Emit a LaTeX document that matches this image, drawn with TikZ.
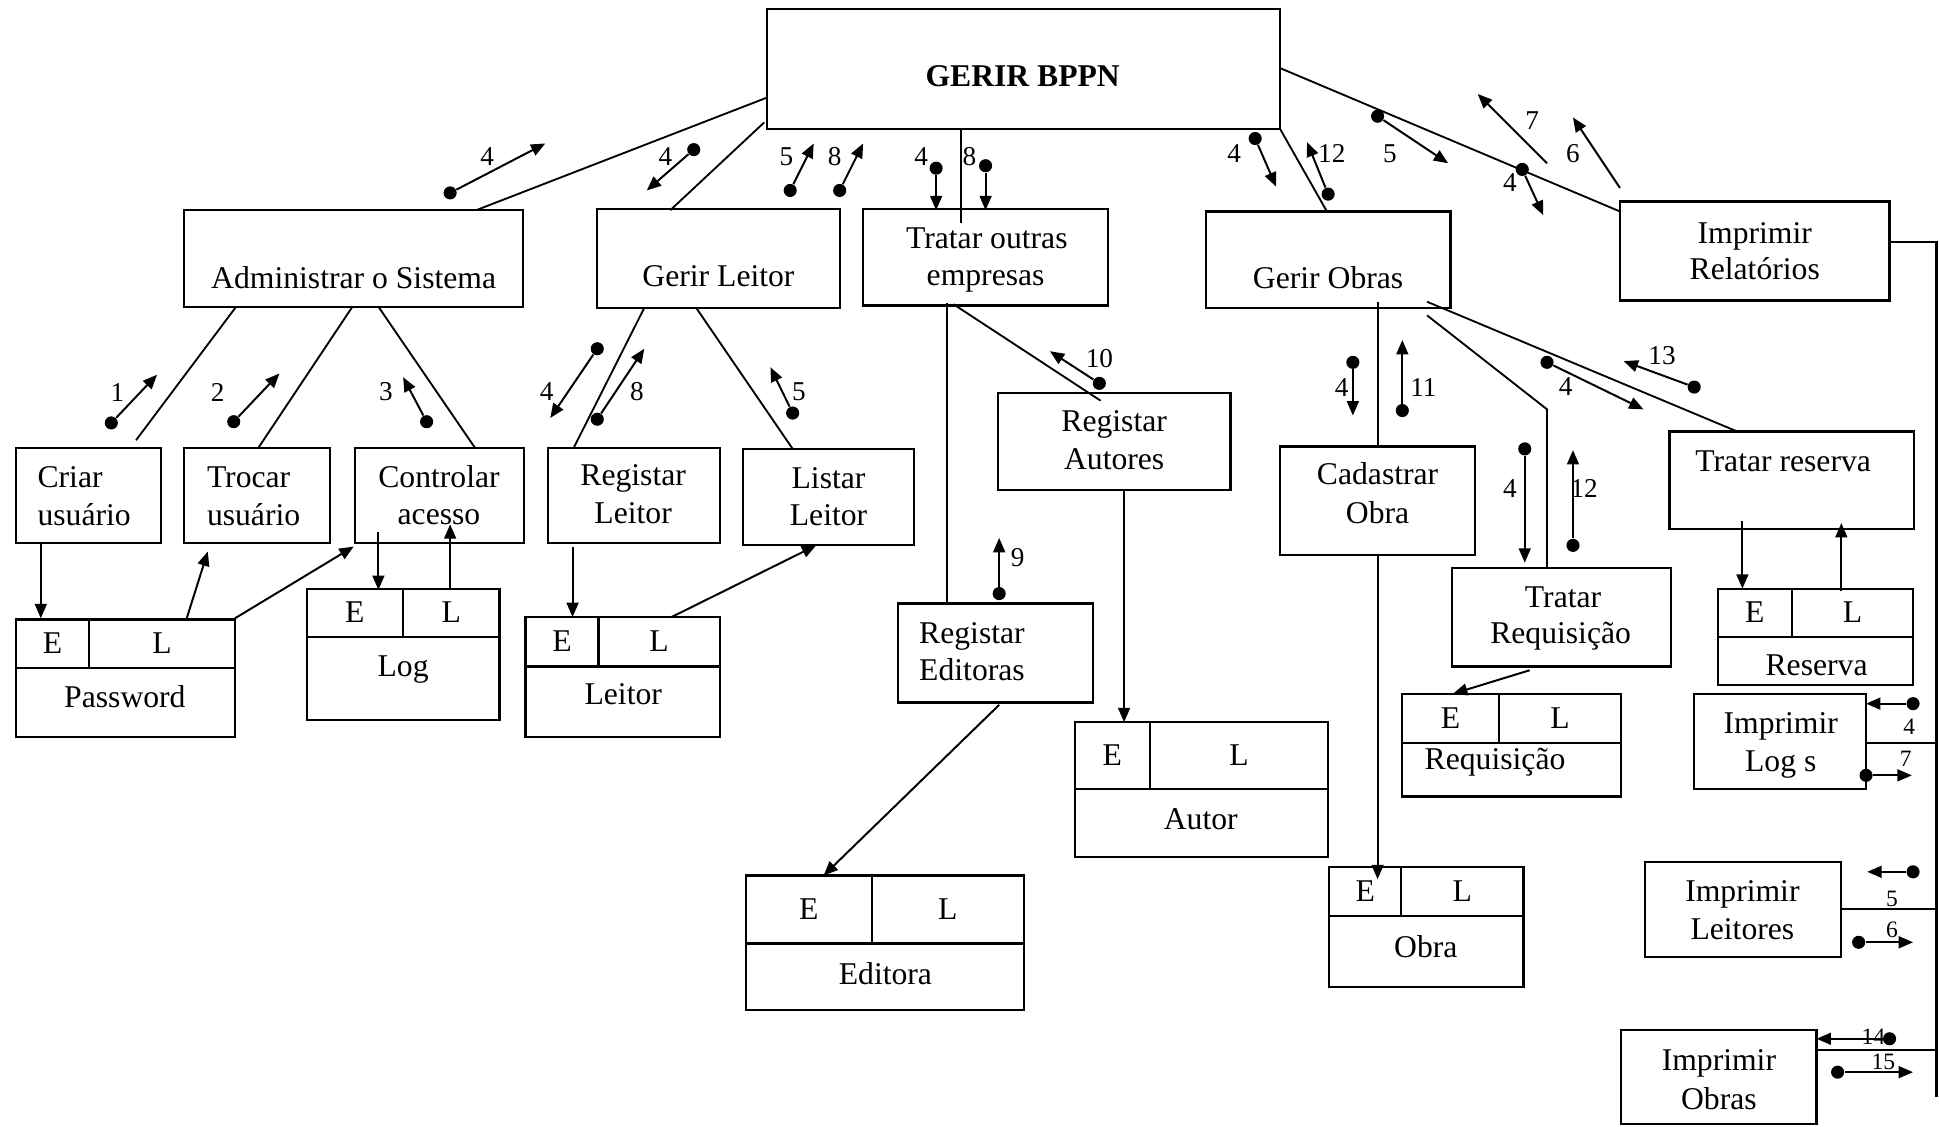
\documentclass[tikz,border=0pt]{standalone}
\usepackage{fontspec}
\setmainfont{Liberation Serif}
\usetikzlibrary{arrows.meta,fit}

% data store: #1 name, #2 x1, #3 y1, #4 x2, #5 y2, #6 y of the row line, #7 x of the divider
\newcommand\datastore[7]{%
  \node[box, fit={(#2,#3) (#4,#5)}] (#1) {};
  \draw[boxline] (#2,#6) -- (#4,#6);
  \draw[boxline] (#7,#3) -- (#7,#6);
  \pgfmathsetmacro\dsEx{(#2+#7)/2}
  \pgfmathsetmacro\dsLx{(#7+#4)/2}
  \pgfmathsetmacro\dsRy{(#3+#6)/2+8}
  \node[txt] (#1-e) at (\dsEx,\dsRy) {E};
  \node[txt] (#1-l) at (\dsLx,\dsRy) {L};
}

\begin{document}
\begin{tikzpicture}[x=0.5pt,y=-0.5pt,
  box/.style={draw, line width=0.9pt, inner sep=0pt},
  boxline/.style={line width=0.9pt},
  txt/.style={font=\fontsize{12.8}{15}\selectfont, inner sep=0pt, anchor=base},
  num/.style={font=\fontsize{11}{13}\selectfont, inner sep=0pt, anchor=base},
  numsmall/.style={font=\fontsize{9.5}{11}\selectfont, inner sep=0pt, anchor=base},
  link/.style={line width=0.75pt},
  flow/.style={line width=0.8pt, -{Triangle[length=5.8pt,width=4.8pt]}},
  dotn/.style={circle, fill, inner sep=0pt, minimum size=5.3pt},
]
\useasboundingbox (0,0) rectangle (1568,911);

% ---------- processes ----------
\node[box, fit={(620,7) (1035,104)}] (gerir) {};
\node[txt, font=\fontsize{12.8}{15}\selectfont\bfseries] (gerirT) at (827,70) {GERIR BPPN};

\node[box, fit={(149,170) (423,248)}] (adm) {};
\node[txt] (admT) at (286,233) {Administrar o Sistema};

\node[box, fit={(483,169) (679,249)}] (gleitor) {};
\node[txt] (gleitorT) at (581,232) {Gerir Leitor};

\node[box, fit={(698,169) (896,247)}] (outras) {};
\node[txt] (outrasT1) at (798,201) {Tratar outras};
\node[txt] (outrasT2) at (797,231) {empresas};

\node[box, fit={(975,171) (1173,249)}] (gobras) {};
\node[txt] (gobrasT) at (1074,233) {Gerir Obras};

\node[box, fit={(1310,163) (1528,243)}] (relat) {};
\node[txt] (relatT1) at (1419,197) {Imprimir};
\node[txt] (relatT2) at (1419,226) {Relatórios};

\node[box, fit={(13,362) (130,439)}] (criar) {};
\node[txt, anchor=base west] (criarT1) at (30,394) {Criar};
\node[txt, anchor=base west] (criarT2) at (30,425) {usuário};

\node[box, fit={(149,362) (267,439)}] (trocar) {};
\node[txt, anchor=base west] (trocarT1) at (167,394) {Trocar};
\node[txt, anchor=base west] (trocarT2) at (167,425) {usuário};

\node[box, fit={(287,362) (424,439)}] (ctrl) {};
\node[txt] (ctrlT1) at (355,394) {Controlar};
\node[txt] (ctrlT2) at (355,424) {acesso};

\node[box, fit={(443,362) (582,439)}] (regleitor) {};
\node[txt] (regleitorT1) at (512,393) {Registar};
\node[txt] (regleitorT2) at (512,423) {Leitor};

\node[box, fit={(601,363) (739,441)}] (listar) {};
\node[txt] (listarT1) at (670,395) {Listar};
\node[txt] (listarT2) at (670,425) {Leitor};

\node[box, fit={(807,318) (995,396)}] (autores) {};
\node[txt] (autoresT1) at (901,349) {Registar};
\node[txt] (autoresT2) at (901,380) {Autores};

\node[box, fit={(1035,361) (1193,449)}] (cadastrar) {};
\node[txt] (cadastrarT1) at (1114,392) {Cadastrar};
\node[txt] (cadastrarT2) at (1114,423) {Obra};

\node[box, fit={(1350,349) (1548,428)}] (treserva) {};
\node[txt] (treservaT) at (1442,381) {Tratar reserva};

\node[box, fit={(1174,459) (1351,539)}] (treq) {};
\node[txt] (treqT1) at (1264,491) {Tratar};
\node[txt] (treqT2) at (1262,520) {Requisição};

\node[box, fit={(726,488) (884,568)}] (editoras) {};
\node[txt] (editorasT1) at (786,520) {Registar};
\node[txt] (editorasT2) at (786,550) {Editoras};

\node[box, fit={(1370,561) (1509,638)}] (plogs) {};
\node[txt] (plogsT1) at (1440,593) {Imprimir};
\node[txt] (plogsT2) at (1440,624) {Log s};

\node[box, fit={(1330,697) (1489,774)}] (pleitores) {};
\node[txt] (pleitoresT1) at (1409,729) {Imprimir};
\node[txt] (pleitoresT2) at (1409,760) {Leitores};

\node[box, fit={(1311,833) (1469,909)}] (pobras) {};
\node[txt] (pobrasT1) at (1390,866) {Imprimir};
\node[txt] (pobrasT2) at (1390,897) {Obras};

% ---------- data stores ----------
\datastore{password}{13}{501}{190}{596}{540}{72}
\node[txt] (password-n) at (101,572) {Password};
\datastore{log}{248}{476}{404}{582}{515}{326}
\node[txt] (log-n) at (326,547) {Log};
\datastore{leitor}{425}{499}{582}{596}{539}{484}
\node[txt] (leitor-n) at (504,570) {Leitor};
\datastore{editora}{603}{708}{828}{817}{763}{705}
\node[txt] (editora-n) at (716,796) {Editora};
\datastore{autor}{869}{584}{1074}{693}{638}{930}
\node[txt] (autor-n) at (971,671) {Autor};
\datastore{obra}{1075}{701}{1232}{798}{741}{1133}
\node[txt] (obra-n) at (1153,774) {Obra};
\datastore{requisicao}{1134}{561}{1311}{644}{601}{1212}
\node[txt] (requisicao-n) at (1209,622) {Requisição};
\datastore{reserva}{1389}{476}{1547}{554}{515}{1449}
\node[txt] (reserva-n) at (1469,546) {Reserva};

% ---------- structure links ----------
\coordinate (gA) at (620,79);   \coordinate (aG) at (385,170);
\coordinate (gB) at (618,99);   \coordinate (bG) at (542,170);
\coordinate (gC) at (777,104);  \coordinate (cG) at (777,180);
\coordinate (gD) at (1035,104); \coordinate (dG) at (1073,171);
\coordinate (gE) at (1035,55);  \coordinate (eG) at (1310,171);
\draw[link] (gA) -- (aG);
\draw[link] (gB) -- (bG);
\draw[link] (gC) -- (cG);
\draw[link] (gD) -- (dG);
\draw[link] (gE) -- (eG);

\coordinate (a1) at (191,248); \coordinate (a1e) at (110,356);
\coordinate (a2) at (285,248); \coordinate (a2e) at (209,362);
\coordinate (a3) at (306,248); \coordinate (a3e) at (384,362);
\draw[link] (a1) -- (a1e);
\draw[link] (a2) -- (a2e);
\draw[link] (a3) -- (a3e);

\coordinate (b1) at (521,249); \coordinate (b1e) at (464,362);
\coordinate (b2) at (563,249); \coordinate (b2e) at (641,363);
\draw[link] (b1) -- (b1e);
\draw[link] (b2) -- (b2e);

\coordinate (o1) at (766,245); \coordinate (o1e) at (766,488);
\coordinate (o2) at (771,246); \coordinate (o2e) at (890,324);
\draw[link] (o1) -- (o1e);
\draw[link] (o2) -- (o2e);

\coordinate (w1) at (1114,244); \coordinate (w1e) at (1114,361);
\coordinate (w2) at (1154,255); \coordinate (w2m) at (1251,331); \coordinate (w2e) at (1251,459);
\coordinate (w3) at (1154,244); \coordinate (w3e) at (1405,349);
\draw[link] (w1) -- (w1e);
\draw[link] (w2) -- (w2m) -- (w2e);
\draw[link] (w3) -- (w3e);

\coordinate (r0) at (1528,196); \coordinate (r1) at (1566,196); \coordinate (r2) at (1566,887);
\draw[boxline] (r0) -- (r1) -- (r2);
\coordinate (rL) at (1566,601);  \coordinate (rLe) at (1509,601);
\coordinate (rR) at (1566,735);  \coordinate (rRe) at (1489,735);
\coordinate (rO) at (1566,849);  \coordinate (rOe) at (1469,849);
\draw[boxline] (rL) -- (rLe);
\draw[boxline] (rR) -- (rRe);
\draw[boxline] (rO) -- (rOe);

% ---------- data flows ----------
\coordinate (f1a) at (33,439);    \coordinate (f1b) at (33,500);
\coordinate (f2a) at (151,500);   \coordinate (f2b) at (168,446);
\coordinate (f3a) at (190,500);   \coordinate (f3b) at (286,442);
\coordinate (f4a) at (306,430);   \coordinate (f4b) at (306,477);
\coordinate (f5a) at (364,476);   \coordinate (f5b) at (364,424);
\coordinate (f6a) at (463,442);   \coordinate (f6b) at (463,499);
\coordinate (f7a) at (543,499);   \coordinate (f7b) at (660,441);
\coordinate (f8a) at (808,570);   \coordinate (f8b) at (666,708);
\coordinate (f9a) at (909,396);   \coordinate (f9b) at (909,584);
\coordinate (f10a) at (1114,449); \coordinate (f10b) at (1114,711);
\coordinate (f11a) at (1237,542); \coordinate (f11b) at (1175,561);
\coordinate (f12a) at (1409,421); \coordinate (f12b) at (1409,476);
\coordinate (f13a) at (1489,478); \coordinate (f13b) at (1489,423);
\foreach \fN in {f1,f2,f3,f4,f5,f6,f7,f8,f9,f10,f11,f12,f13}
  \draw[flow] (\fN a) -- (\fN b);

% ---------- couples (dot, tip, label) ----------
\foreach \cN/\cX/\cY/\cU/\cV/\cL/\cP/\cQ in {
  c1/364/156/441/116/4/394/134,
  c2/561/121/523/154/4/538/134,
  c3/639/154/658/116/5/636/134,
  c4/679/154/698/116/8/675/134,
  c5/757/136/757/170/4/745/134,
  c6/797/134/797/170/8/784/134,
  c7/1015/112/1032/151/4/998/131,
  c8/1074/157/1057/115/12/1077/131,
  c9/1114/94/1171/132/5/1124/131,
  c11/1231/137/1248/174/4/1221/155,
  c13/90/342/127/303/1/95/325,
  c14/189/341/226/302/2/176/325,
  c15/345/341/326/305/3/312/324,
  c16/483/282/445/338/4/442/324,
  c17/483/339/521/282/8/515/324,
  c18/641/334/623/297/5/646/324,
  c19/889/310/849/284/10/889/297,
  c20/808/480/808/435/9/823/458,
  c21/1094/293/1094/336/4/1085/321,
  c22/1134/332/1134/275/11/1151/321,
  c23/1233/363/1233/455/4/1221/402,
  c24/1272/441/1272/364/12/1281/402,
  c25/1251/293/1329/331/4/1266/320,
  c26/1370/313/1313/292/13/1344/295}
{
  \node[dotn] (\cN) at (\cX,\cY) {};
  \coordinate (\cN-tip) at (\cU,\cV);
  \draw[flow] (\cN) -- (\cN-tip);
  \node[num] (\cN-lab) at (\cP,\cQ) {\cL};
}

% couples without a dot
\coordinate (c10) at (1251,132); \coordinate (c10-tip) at (1195,76);
\draw[flow] (c10) -- (c10-tip);
\node[num] (c10-lab) at (1239,105) {7};
\coordinate (c12) at (1310,152); \coordinate (c12-tip) at (1272,95);
\draw[flow] (c12) -- (c12-tip);
\node[num] (c12-lab) at (1272,131) {6};

% couples of the printing branch
\foreach \cN/\cX/\cY/\cU/\cV/\cL/\cP/\cQ in {
  c27/1547/569/1509/569/4/1544/594,
  c28/1509/627/1546/627/7/1541/620,
  c29/1547/705/1510/705/5/1530/733,
  c30/1503/762/1547/762/6/1530/758,
  c31/1528/840/1469/840/14/1515/845,
  c32/1486/867/1547/867/15/1523/865}
{
  \node[dotn] (\cN) at (\cX,\cY) {};
  \coordinate (\cN-tip) at (\cU,\cV);
  \draw[flow] (\cN) -- (\cN-tip);
  \node[numsmall] (\cN-lab) at (\cP,\cQ) {\cL};
}
\end{tikzpicture}
\end{document}
